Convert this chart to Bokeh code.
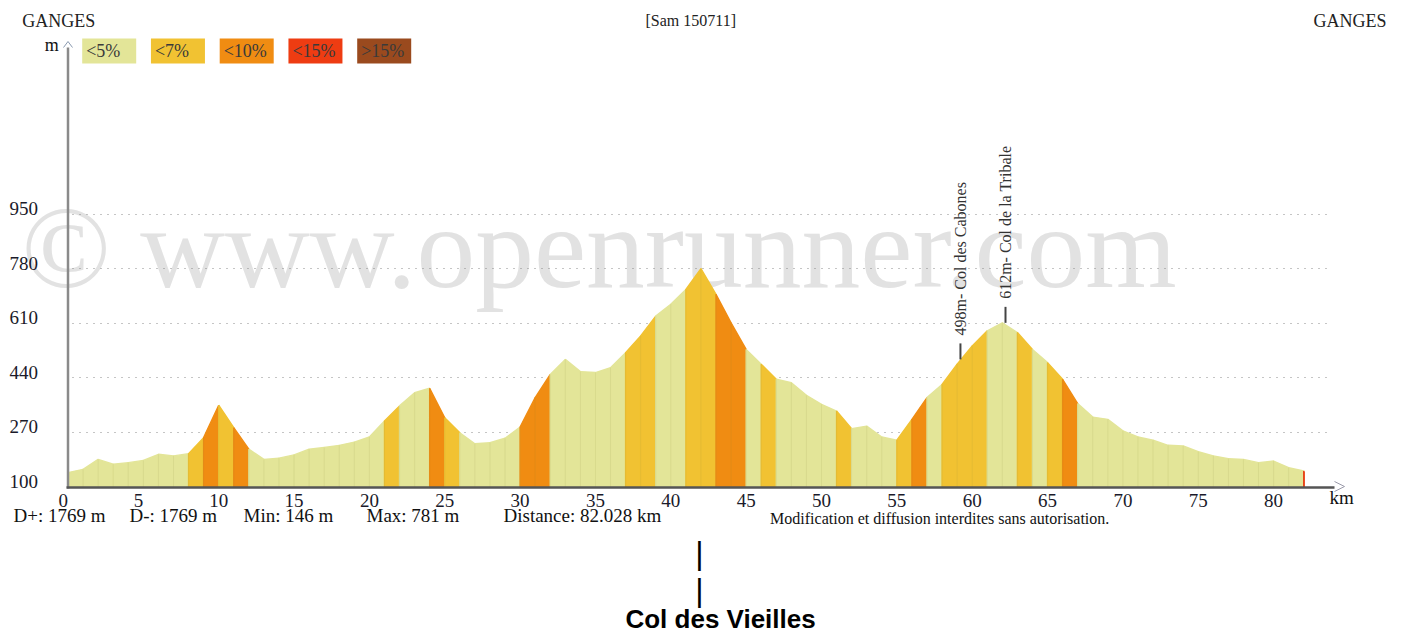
import math
from bokeh.plotting import figure
from bokeh.models import Label, FixedTicker, Range1d
from bokeh.core.properties import value
from bokeh.embed import file_html
from bokeh.resources import INLINE

# ---------------- data ----------------
km = list(range(0, 83)) + [82.028]
elev = [145, 155, 186, 171, 176, 183, 202, 197, 204, 254,
        355, 285, 218, 186, 190, 200, 218, 223, 230, 240,
        256, 306, 353, 394, 408, 316, 269, 235, 238, 252,
        287, 379, 451, 498, 460, 457, 472, 519, 571, 633,
        670, 716, 781, 701, 612, 529, 483, 436, 425, 386,
        358, 337, 282, 290, 256, 246, 311, 379, 420, 483,
        540, 587, 612, 582, 529, 488, 436, 360, 318, 311,
        275, 256, 246, 230, 228, 210, 197, 188, 186, 176,
        181, 160, 150, 146]
# gradient class of each 1 km segment (index into grade_labels)
grade = [0, 0, 0, 0, 0, 0, 0, 0, 1, 2, 1, 2,
         0, 0, 0, 0, 0, 0, 0, 0, 0,
         1, 0, 0, 2, 1,
         0, 0, 0, 0, 2, 2,
         0, 0, 0, 0, 0, 1, 1, 0, 0, 1, 1, 2, 2,
         0, 1, 0, 0, 0, 0, 1, 0, 0, 0, 1, 2, 0,
         1, 1, 1, 0, 0, 1, 0, 1, 2,
         0, 0, 0, 0, 0, 0, 0, 0, 0, 0, 0, 0, 0, 0, 0,
         3]
grade_labels = ["<5%", "<7%", "<10%", "<15%", ">15%"]
grade_colors = ["#E3E598", "#F1C232", "#F08C12", "#EE3C12", "#9A4A1E"]

x_ticks = list(range(0, 81, 5))
y_ticks = [100, 270, 440, 610, 780, 950]

pass_names = ["Col des Cabones", "Col de la Tribale"]
pass_km = [59.22, 62.21]
pass_elev = [498, 612]

summit_name = "Col des Vieilles"
summit_km = 41.9

start_name = "GANGES"
end_name = "GANGES"
date_label = "[Sam 150711]"
stats = ["D+: 1769 m", "D-: 1769 m", "Min: 146 m", "Max: 781 m", "Distance: 82.028 km"]
notice = "Modification et diffusion interdites sans autorisation."
watermark = "\u00a9 www.openrunner.com"

# ---------------- layout (canvas pixels) ----------------
W, H = 1404, 633
PX_KM = 15.07
PX_M = 0.3206
X0 = 67.5      # canvas x of km 0
Y0 = 486.5     # canvas y of 100 m
M0 = 100


def kx(sx):
    return (sx - X0) / PX_KM


def my(sy):
    return M0 + (Y0 - sy) / PX_M


p = figure(width=W, height=H,
           x_range=Range1d(kx(0), kx(W)),
           y_range=Range1d(my(H), my(0)),
           output_backend="svg", toolbar_location=None,
           min_border_left=0, min_border_right=0,
           min_border_top=0, min_border_bottom=0,
           outline_line_color=None)

SERIF = "Liberation Serif"
SANS = "Liberation Sans"
NB = "\u00a0"

# axes (labels only), pinned at km 0 / 100 m
p.xaxis.ticker = FixedTicker(ticks=x_ticks)
p.yaxis.ticker = FixedTicker(ticks=y_ticks)
p.xaxis.fixed_location = M0
p.yaxis.fixed_location = 0
for ax in (p.xaxis, p.yaxis):
    ax.axis_line_color = None
    ax.major_tick_line_color = None
    ax.minor_tick_line_color = None
    ax.major_tick_out = 0
    ax.major_tick_in = 0
    ax.major_label_text_font = SERIF
    ax.major_label_text_font_size = "19px"
    ax.major_label_text_color = "#1a1a2a"
p.xaxis.major_label_standoff = 3
p.yaxis.major_label_standoff = 30
# single-digit km labels sit a little left of their tick in the original
p.xaxis.major_label_overrides = {t: f"{t}{NB}{NB}" for t in x_ticks if t < 10}
# elevation labels sit on (not centred on) their grid line
p.yaxis.major_label_overrides = {t: f"{t}\n" for t in y_ticks}
p.yaxis.major_label_text_line_height = 0.55

p.xgrid.grid_line_color = None
p.ygrid.ticker = FixedTicker(ticks=y_ticks[1:])
p.ygrid.grid_line_color = "#8a8a8a"
p.ygrid.grid_line_dash = "1 6"
p.ygrid.grid_line_width = 1
try:
    p.ygrid.cross_bounds = (kx(72), kx(1330))
except Exception:
    pass


def add_label(text, sx, sy, size, font=SERIF, color="#222222", align="left",
              style="normal", level="annotation"):
    lab = Label(x=kx(sx), y=my(sy), x_units="data", y_units="data", text=text,
                text_font=font, text_font_size=size, text_color=color,
                text_align=align, text_baseline="middle", text_font_style=style,
                level=level)
    p.add_layout(lab)
    return lab


# watermark (under everything)
add_label(watermark, 21, 246, "117.5px", color="#e2e2e2", level="image")

# elevation profile, one patch per km segment
n = len(km) - 1
xs = [[km[i], km[i], km[i + 1], km[i + 1]] for i in range(n)]
ys = [[M0, elev[i], elev[i + 1], M0] for i in range(n)]
cols = [grade_colors[g] for g in grade]
p.patches(xs, ys, fill_color=cols, line_color=cols, line_width=1.4)
# faint km separators
p.segment(x0=km[1:n], y0=[M0] * (n - 1), x1=km[1:n], y1=elev[1:n],
          line_color="#8a8a40", line_alpha=0.12, line_width=1)

# axis lines + arrows
p.segment(x0=[0], y0=[my(488)], x1=[0], y1=[my(47)], line_color="#8a8a8a", line_width=2.5)
p.line([kx(63), 0, kx(72)], [my(47), my(41), my(47)], line_color="#8a9ab0", line_width=1)
p.segment(x0=[kx(66)], y0=[my(487)], x1=[kx(1334)], y1=[my(487)], line_color="#555555", line_width=2.5)
p.line([kx(1334), kx(1344), kx(1334)], [my(481), my(486), my(491)], line_color="#9a9aaa", line_width=1)

# legend boxes
box_l = [81.7 + 68.75 * i for i in range(len(grade_labels))]
p.quad(left=[kx(b) for b in box_l], right=[kx(b + 54) for b in box_l],
       top=[my(38)] * len(box_l), bottom=[my(63)] * len(box_l),
       fill_color=grade_colors, line_color=None)
p.text(x=[kx(b + 4) for b in box_l], y=[my(50.5)] * len(box_l), text=grade_labels,
       text_font=value(SERIF), text_font_size="18px", text_color="#3a3a3a",
       text_align="left", text_baseline="middle")

# pass annotations
TICK_PX, GAP_PX = 16, 24
p.segment(x0=pass_km, y0=pass_elev, x1=pass_km,
          y1=[e + TICK_PX / PX_M for e in pass_elev], line_color="#444444", line_width=2)
for name, k, e in zip(pass_names, pass_km, pass_elev):
    lab = Label(x=k, y=e + GAP_PX / PX_M, text=f"{e}m- {name}", angle=math.pi / 2,
                text_font=SERIF, text_font_size="16px", text_color="#333333",
                text_align="left", text_baseline="middle")
    p.add_layout(lab)

# titles
add_label(start_name, 21.7, 20, "18px")
add_label(date_label, 645, 19.5, "16px")
add_label(end_name, 1313, 20, "18px")
add_label("m", 44.3, 44.7, "18px", color="#111111")
add_label("km", 1329, 496.6, "19px", color="#111111")

# statistics
for text, sx in zip(stats, [13, 129, 243, 366, 503]):
    add_label(text, sx, 514.6, "19px", color="#111111")
add_label(notice, 769.6, 517.6, "16px", color="#111111")

# summit caption below the chart
sx_summit = X0 + summit_km * PX_KM
add_label("|", sx_summit, 552, "32px", font=SANS, color="#000000", align="center")
add_label("|", sx_summit, 589, "32px", font=SANS, color="#000000", align="center")
add_label(summit_name, sx_summit - 74, 618, "26px", font=SANS, color="#000000", style="bold")

open("out.html", "w").write(file_html(p, INLINE))
